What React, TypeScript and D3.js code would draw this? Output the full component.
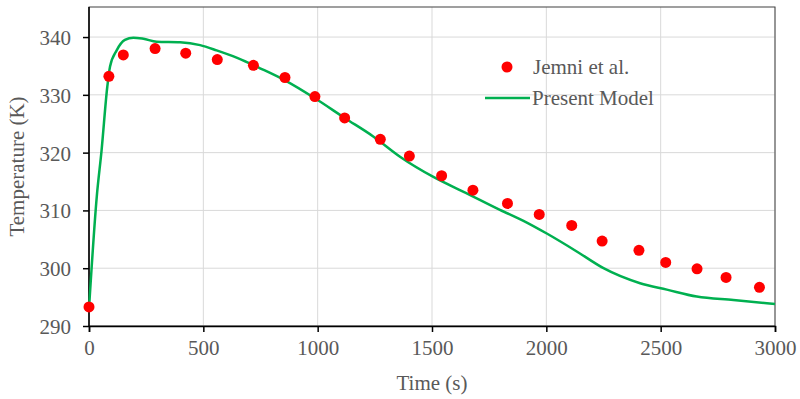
import React, { useEffect, useRef } from "react";
import * as d3 from "d3";

// Jemni et al. (measured points)
const jemniTime = [0, 87, 150, 289, 423, 561, 719, 857, 988, 1118, 1274, 1401, 1542, 1679, 1830, 1969, 2111, 2244, 2405, 2522, 2659, 2786, 2932];
const jemniTemp = [293.3, 333.2, 336.9, 338.0, 337.2, 336.1, 335.1, 333.0, 329.7, 326.0, 322.3, 319.4, 316.0, 313.5, 311.2, 309.3, 307.4, 304.7, 303.1, 301.0, 299.9, 298.4, 296.7];

// Present model (curve)
const modelTime = [0, 34, 55, 80, 92, 121, 157, 194, 238, 296, 398, 486, 558, 648, 748, 857, 988, 1118, 1243, 1360, 1506, 1650, 1797, 1900, 2002, 2133, 2250, 2410, 2527, 2658, 2818, 3000];
const modelTemp = [293, 312.4, 320.4, 331.4, 334.9, 337.7, 339.5, 339.9, 339.7, 339.2, 339.1, 338.6, 337.7, 336.4, 334.6, 332.5, 329.4, 326.0, 322.8, 319.3, 315.8, 313.0, 310.1, 308.2, 306.0, 302.9, 300.0, 297.4, 296.3, 295.1, 294.5, 293.8];

const xTicks = [0, 500, 1000, 1500, 2000, 2500, 3000];
const yTicks = [290, 300, 310, 320, 330, 340];

const App = () => {
  const svgRef = useRef<SVGSVGElement>(null);

  useEffect(() => {
    const margin = { top: 7, right: 25, bottom: 73, left: 89 };
    const width = 800 - margin.left - margin.right;
    const height = 399 - margin.top - margin.bottom;
    const svg = d3.select(svgRef.current);
    svg.selectAll("*").remove();

    const xScale = d3.scaleLinear().domain([0, 3000]).range([0, width]);
    const yScale = d3.scaleLinear().domain([290, 345.2]).range([height, 0]);

    const chart = svg.append("g").attr("transform", `translate(${margin.left},${margin.top})`);
    const font = "'Liberation Serif', 'Times New Roman', serif";

    // gridlines
    chart.selectAll(".gx").data(xTicks).enter().append("line")
      .attr("x1", (d) => xScale(d)).attr("x2", (d) => xScale(d))
      .attr("y1", 0).attr("y2", height)
      .attr("stroke", "#d9d9d9").attr("stroke-width", 1);
    chart.selectAll(".gy").data(yTicks).enter().append("line")
      .attr("x1", 0).attr("x2", width)
      .attr("y1", (d) => yScale(d)).attr("y2", (d) => yScale(d))
      .attr("stroke", "#d9d9d9").attr("stroke-width", 1);

    // frame
    chart.append("rect").attr("width", width).attr("height", height)
      .attr("fill", "none").attr("stroke", "#404040").attr("stroke-width", 1);

    // axes
    const xAxis = chart.append("g").attr("transform", `translate(0,${height})`)
      .call(d3.axisBottom(xScale).tickValues(xTicks).tickSize(6).tickPadding(8).tickFormat(d3.format("d")));
    const yAxis = chart.append("g")
      .call(d3.axisLeft(yScale).tickValues(yTicks).tickSize(6).tickPadding(12).tickFormat(d3.format("d")));
    [xAxis, yAxis].forEach((a) => {
      a.select(".domain").attr("stroke", "#000").attr("stroke-width", 1.5);
      a.selectAll(".tick line").attr("stroke", "#000").attr("stroke-width", 1.5);
      a.selectAll(".tick text").attr("fill", "#595959").style("font-family", font).style("font-size", "21px");
    });
    yAxis.select(".domain").attr("d", `M0,0V${height}`);
    yAxis.selectAll(".tick text").attr("dy", "0.36em");
    xAxis.selectAll(".tick text").attr("dy", "0.71em");

    // model line
    const line = d3.line<[number, number]>()
      .x((d) => xScale(d[0])).y((d) => yScale(d[1]))
      .curve(d3.curveMonotoneX);
    chart.append("path")
      .datum(modelTime.map((t, i) => [t, modelTemp[i]] as [number, number]))
      .attr("d", line)
      .attr("fill", "none")
      .attr("stroke", "#00b050")
      .attr("stroke-width", 2.5);

    // Jemni points
    chart.selectAll(".dot")
      .data(jemniTime.map((t, i) => [t, jemniTemp[i]]))
      .enter().append("circle")
      .attr("cx", (d) => xScale(d[0]))
      .attr("cy", (d) => yScale(d[1]))
      .attr("r", 5.5)
      .attr("fill", "#ff0000");

    // legend
    const lg = svg.append("g");
    lg.append("circle").attr("cx", 507).attr("cy", 67).attr("r", 5.5).attr("fill", "#ff0000");
    lg.append("text").attr("x", 533).attr("y", 74).text("Jemni et al.")
      .attr("fill", "#595959").style("font-family", font).style("font-size", "21px");
    lg.append("line").attr("x1", 485).attr("x2", 530).attr("y1", 98).attr("y2", 98)
      .attr("stroke", "#00b050").attr("stroke-width", 2.5);
    lg.append("text").attr("x", 532).attr("y", 105).text("Present Model")
      .attr("fill", "#595959").style("font-family", font).style("font-size", "21px");

    // axis titles
    svg.append("text").attr("x", margin.left + width / 2).attr("y", 390)
      .attr("text-anchor", "middle").text("Time (s)")
      .attr("fill", "#595959").style("font-family", font).style("font-size", "21px");
    svg.append("text")
      .attr("transform", `translate(24,${margin.top + height / 2}) rotate(-90)`)
      .attr("text-anchor", "middle").text("Temperature (K)")
      .attr("fill", "#595959").style("font-family", font).style("font-size", "21px");
  }, []);

  return (
    <div style={{ position: "absolute", left: 0, top: 0 }}>
      <svg ref={svgRef} width={800} height={399} style={{ display: "block", background: "#fff" }}></svg>
    </div>
  );
};

export default App;
